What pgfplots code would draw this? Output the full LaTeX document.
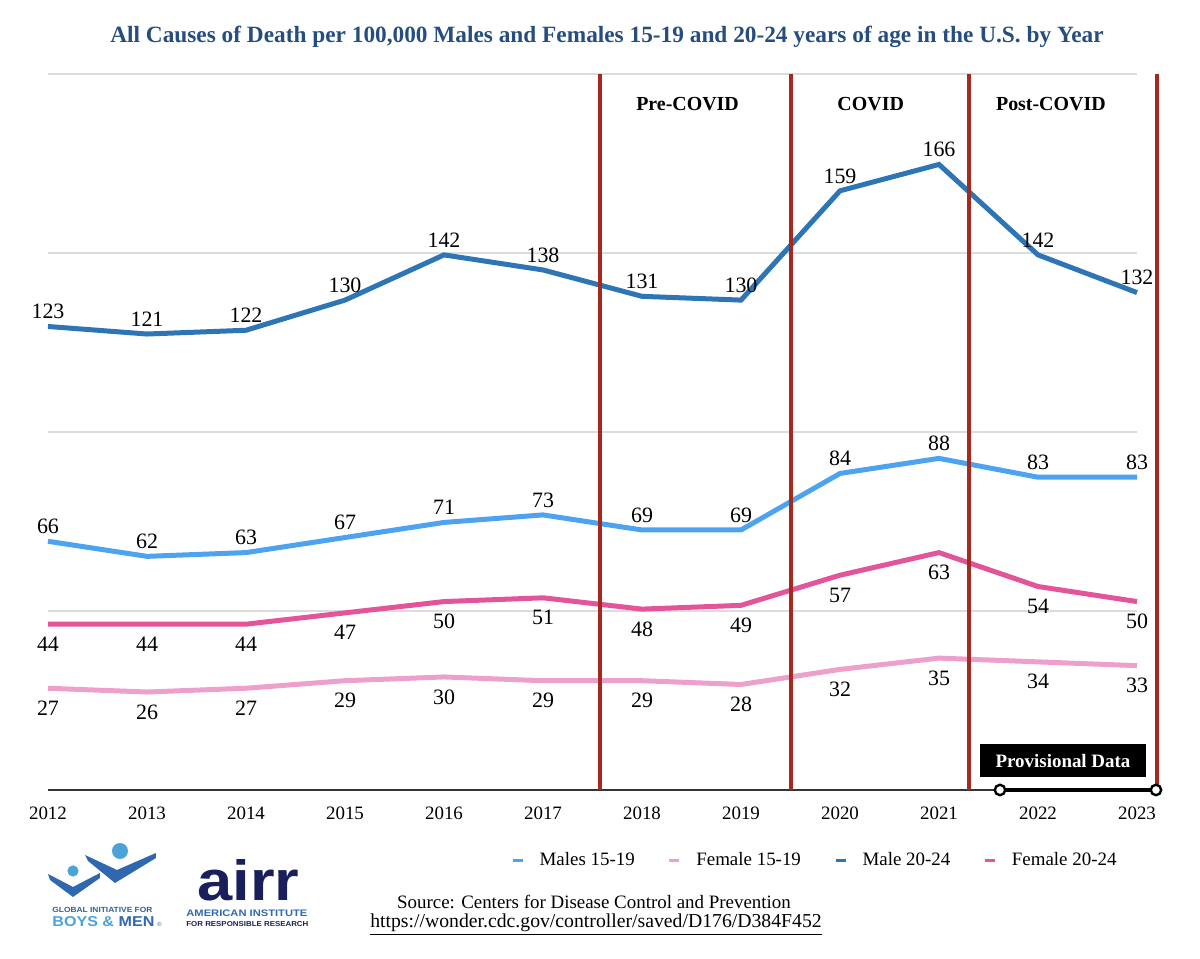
\documentclass[border=0pt]{standalone}
\usepackage{fontspec}
\setmainfont{Liberation Serif}
\setsansfont{Liberation Sans}
\usepackage{graphicx}
\usepackage{pgfplots}
\pgfplotsset{compat=1.18}
\definecolor{mA}{HTML}{4DA3F0}
\definecolor{mB}{HTML}{2E75B6}
\definecolor{fA}{HTML}{EDA0CB}
\definecolor{fB}{HTML}{E2559A}
\definecolor{redline}{HTML}{A52A1D}
\definecolor{titleblue}{HTML}{264D80}
\definecolor{gridgray}{HTML}{DCDCDC}
\definecolor{axisgray}{HTML}{333333}
\definecolor{gbdark}{HTML}{3068B0}
\definecolor{gblight}{HTML}{4BA3DA}
\definecolor{gbgray}{HTML}{2E5F9A}
\definecolor{airrnavy}{HTML}{1A1F5C}
\begin{document}
\begin{tikzpicture}
\begin{axis}[
  at={(0,0)}, anchor=south west,
  scale only axis, width=544.5bp, height=358bp,
  xmin=2012, xmax=2023, ymin=0, ymax=190,
  clip=false,
  axis line style={draw=none},
  ytick={47.5,95,142.5,190}, yticklabels={},
  ymajorgrids, grid style={color=gridgray, line width=0.75bp},
  xtick={2012,2013,2014,2015,2016,2017,2018,2019,2020,2021,2022,2023},
  xticklabels={2012,2013,2014,2015,2016,2017,2018,2019,2020,2021,2022,2023},
  major tick length=0pt,
  xticklabel style={font=\fontsize{9.5}{10}\selectfont, yshift=-5bp},
  /pgf/number format/assume math mode=true,
  every node near coord/.append style={font=\fontsize{11}{12}\selectfont, text=black, inner sep=1bp},
  legend columns=4,
  legend style={at={(0.705,-0.098)}, anchor=center, draw=none, fill=none,
    font=\fontsize{9.5}{10}\selectfont,
    /tikz/every even column/.append style={column sep=14.5bp}},
  legend image code/.code={\draw[#1, line width=1.6bp] (0bp,0bp) -- (5bp,0bp); \path[draw=none, fill=none] (0bp,0bp) -- (11.5bp,0bp);},
]
\addplot[mA, line width=2.5bp, nodes near coords, every node near coord/.append style={anchor=south, yshift=1.5bp}] coordinates {
(2012,66) (2013,62) (2014,63) (2015,67) (2016,71) (2017,73) (2018,69) (2019,69) (2020,84) (2021,88) (2022,83) (2023,83)};
\addlegendentry{Males 15-19}
\addplot[fA, line width=2.5bp, nodes near coords, every node near coord/.append style={anchor=north, yshift=-4bp}] coordinates {
(2012,27) (2013,26) (2014,27) (2015,29) (2016,30) (2017,29) (2018,29) (2019,28) (2020,32) (2021,35) (2022,34) (2023,33)};
\addlegendentry{Female 15-19}
\addplot[mB, line width=2.5bp, nodes near coords, every node near coord/.append style={anchor=south, yshift=1.5bp}] coordinates {
(2012,123) (2013,121) (2014,122) (2015,130) (2016,142) (2017,138) (2018,131) (2019,130) (2020,159) (2021,166) (2022,142) (2023,132)};
\addlegendentry{Male 20-24}
\addplot[fB, line width=2.5bp, nodes near coords, every node near coord/.append style={anchor=north, yshift=-4bp}] coordinates {
(2012,44) (2013,44) (2014,44) (2015,47) (2016,50) (2017,51) (2018,48) (2019,49) (2020,57) (2021,63) (2022,54) (2023,50)};
\addlegendentry{Female 20-24}
% baseline
\draw[axisgray, line width=1bp] (axis cs:2012,0) -- (axis cs:2023.24,0);
% period separators
\draw[redline, line width=2bp] (axis cs:2017.58,0) -- (axis cs:2017.58,190);
\draw[redline, line width=2bp] (axis cs:2019.5,0) -- (axis cs:2019.5,190);
\draw[redline, line width=2bp] (axis cs:2021.3,0) -- (axis cs:2021.3,190);
\draw[redline, line width=2bp] (axis cs:2023.2,0) -- (axis cs:2023.2,190);
\node[font=\bfseries\fontsize{10}{12}\selectfont] at (axis cs:2018.46,182) {Pre-COVID};
\node[font=\bfseries\fontsize{10}{12}\selectfont] at (axis cs:2020.31,182) {COVID};
\node[font=\bfseries\fontsize{10}{12}\selectfont] at (axis cs:2022.13,182) {Post-COVID};
\end{axis}
% pixel-coordinate scope: (0,0) = top-left of the 1200x959 picture
\begin{scope}[shift={(-24bp,395bp)}, x=0.5bp, y=-0.5bp]
  \node[font=\bfseries\fontsize{11.7}{13}\selectfont, text=titleblue] at (607,37)
    {All Causes of Death per 100,000 Males and Females 15-19 and 20-24 years of age in the U.S. by Year};
  % provisional data
  \fill[black] (980,744) rectangle (1146,777);
  \node[text=white, font=\bfseries\fontsize{9.5}{10}\selectfont] at (1063,761) {Provisional Data};
  \draw[black, line width=2bp] (1000,790) -- (1156,790);
  \draw[black, line width=1.2bp, fill=white] (1000,790) circle[radius=2.6bp];
  \draw[black, line width=1.2bp, fill=white] (1156,790) circle[radius=2.6bp];
  % source
  \node[font=\fontsize{9.5}{11}\selectfont] at (594,902) {Source: Centers for Disease Control and Prevention};
  \node[font=\fontsize{9.9}{11}\selectfont] at (596,925) {\underline{https://wonder.cdc.gov/controller/saved/D176/D384F452}};
  % GIBM logo
  \fill[gbdark] (48,874) -- (50,880) -- (73,897) -- (100,878) -- (100,873) -- (73,887) -- cycle;
  \fill[gbdark] (85,855) -- (88,861) -- (115,883) -- (156,858) -- (156,853) -- (117,870) -- cycle;
  \fill[gblight] (73,871) circle[radius=2.8bp];
  \fill[gblight] (120,851) circle[radius=4bp];
  \node[anchor=west, inner sep=0pt, text=gbgray] at (52,910)
    {\resizebox{50bp}{2.6bp}{\sffamily\bfseries GLOBAL INITIATIVE FOR}};
  \node[anchor=west, inner sep=0pt] at (52,922)
    {\resizebox{51bp}{5bp}{\sffamily\bfseries\textcolor{gblight}{BOYS \&} \textcolor{gbdark}{MEN}}};
  \node[anchor=west, inner sep=0pt, text=gbdark, font=\sffamily\fontsize{3}{3}\selectfont] at (157,924) {®};
  % airr logo
  \node[anchor=base west, inner sep=0pt, text=airrnavy] at (197,901)
    {\resizebox{51bp}{20.5bp}{\sffamily\bfseries airr}};
  \node[anchor=west, inner sep=0pt, text=gbdark] at (186,913.5)
    {\resizebox{60.5bp}{3.3bp}{\sffamily\bfseries AMERICAN INSTITUTE}};
  \node[anchor=west, inner sep=0pt, text=airrnavy] at (186,924)
    {\resizebox{61bp}{2.5bp}{\sffamily\bfseries FOR RESPONSIBLE RESEARCH}};
\end{scope}
\pgfresetboundingbox
\path (-24bp,-84.5bp) rectangle (576bp,395bp);
\end{tikzpicture}
\end{document}
